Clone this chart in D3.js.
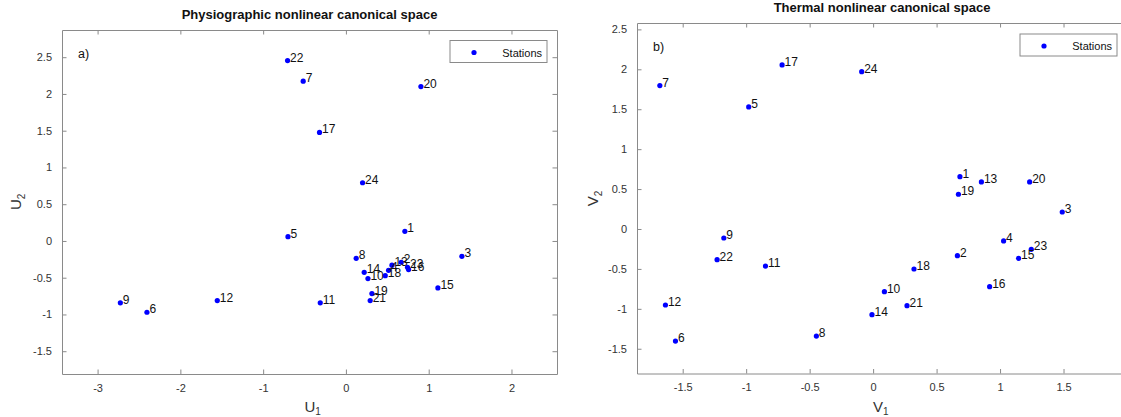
<!DOCTYPE html>
<html>
<head>
<meta charset="utf-8">
<script src="https://cdn.jsdelivr.net/npm/d3@7"></script>
<style>
  body { margin: 0; background: #fff; }
  svg { font-family: "Liberation Sans", Arial, sans-serif; }
</style>
</head>
<body>
<script>
// station numbers and canonical coordinates
var stations = [1, 2, 3, 4, 5, 6, 7, 8, 9, 10, 11, 12, 13, 14, 15, 16, 17, 18, 19, 20, 21, 22, 23, 24];

var u1 = [0.712, 0.668, 1.401, 0.515, -0.70, -2.404, -0.516, 0.124, -2.725, 0.266, -0.31, -1.554,
          0.556, 0.221, 1.111, 0.757, -0.319, 0.475, 0.314, 0.906, 0.293, -0.705, 0.744, 0.201];
var u2 = [0.131, -0.29, -0.209, -0.40, 0.058, -0.970, 2.174, -0.236, -0.842, -0.512, -0.842, -0.811,
          -0.33, -0.427, -0.639, -0.39, 1.476, -0.472, -0.716, 2.10, -0.811, 2.454, -0.358, 0.792];

var v1 = [0.684, 0.664, 1.49, 1.028, -0.980, -1.557, -1.680, -0.447, -1.176, 0.089, -0.848, -1.636,
          0.853, -0.009, 1.146, 0.918, -0.717, 0.322, 0.672, 1.233, 0.267, -1.229, 1.246, -0.09];
var v2 = [0.655, -0.334, 0.213, -0.150, 1.529, -1.404, 1.796, -1.341, -0.113, -0.785, -0.464, -0.952,
          0.589, -1.073, -0.368, -0.723, 2.055, -0.501, 0.435, 0.589, -0.961, -0.384, -0.255, 1.97];

var xTicksA = [-3, -2, -1, 0, 1, 2];
var xLabelsA = ['-3', '-2', '-1', '0', '1', '2'];
var yTicks = [-1.5, -1, -0.5, 0, 0.5, 1, 1.5, 2, 2.5];
var yLabels = ['-1.5', '-1', '-0.5', '0', '0.5', '1', '1.5', '2', '2.5'];
var xTicksB = [-1.5, -1, -0.5, 0, 0.5, 1, 1.5];
var xLabelsB = ['-1.5', '-1', '-0.5', '0', '0.5', '1', '1.5'];

var width = 1121,
    height = 417;

var svg = d3.select('body').append('svg')
    .attr('width', width)
    .attr('height', height);

var panels = [
  {x: u1, y: u2, title: 'Physiographic nonlinear canonical space', tag: 'a)', lab: 'U',
   xdom: [-3.43, 2.55], ydom: [-1.81, 2.87], left: 62, right: 557, top: 30, bottom: 374,
   xt: xTicksA, xl: xLabelsA, legTop: 40.5, ylabX: 21},
  {x: v1, y: v2, title: 'Thermal nonlinear canonical space', tag: 'b)', lab: 'V',
   xdom: [-1.86, 2.0], ydom: [-1.81, 2.58], left: 637, right: 1127, top: 23, bottom: 373.5,
   xt: xTicksB, xl: xLabelsB, legTop: 34, ylabX: 598}
];

var drawPanel = function(p) {
  var x = d3.scaleLinear().domain(p.xdom).range([p.left, p.right]);
  var y = d3.scaleLinear().domain(p.ydom).range([p.bottom, p.top]);
  var g = svg.append('g');

  var fmtX = function(d) { return p.xl[p.xt.indexOf(d)]; };
  var fmtY = function(d) { return yLabels[yTicks.indexOf(d)]; };

  var axes = [
    {a: d3.axisBottom(x).tickValues(p.xt).tickFormat(fmtX), t: 'translate(0,' + p.bottom + ')'},
    {a: d3.axisTop(x).tickValues(p.xt).tickFormat(''), t: 'translate(0,' + p.top + ')'},
    {a: d3.axisLeft(y).tickValues(yTicks).tickFormat(fmtY), t: 'translate(' + p.left + ',0)'},
    {a: d3.axisRight(y).tickValues(yTicks).tickFormat(''), t: 'translate(' + p.right + ',0)'}
  ];

  axes.forEach(function(ax) {
    var sel = g.append('g')
        .attr('transform', ax.t)
        .call(ax.a.tickSizeInner(-4.5).tickSizeOuter(0).tickPadding(10));
    sel.select('.domain').attr('stroke', '#8a8a8a');
    sel.selectAll('.tick line').attr('stroke', '#8a8a8a');
    sel.selectAll('.tick text')
        .attr('fill', '#333')
        .style('font-size', '11px');
  });

  // title
  g.append('text')
      .attr('x', (p.left + p.right) / 2)
      .attr('y', p.top - 11)
      .attr('text-anchor', 'middle')
      .style('font-size', '13px')
      .style('font-weight', 'bold')
      .attr('fill', '#111')
      .text(p.title);

  // panel tag
  g.append('text')
      .attr('x', p.left + 16)
      .attr('y', p.legTop + 17)
      .style('font-size', '12.5px')
      .attr('fill', '#111')
      .text(p.tag);

  // axis labels
  var xl = g.append('text')
      .attr('x', (p.left + Math.min(p.right, 1119)) / 2 - 5)
      .attr('y', 412)
      .style('font-size', '15px')
      .attr('fill', '#333');
  xl.append('tspan').text(p.lab);
  xl.append('tspan').attr('dy', 3).style('font-size', '10px').text('1');

  var cy = (p.top + p.bottom) / 2;
  var yl = g.append('text')
      .attr('transform', 'translate(' + p.ylabX + ',' + (cy + 8) + ') rotate(-90)')
      .style('font-size', '15px')
      .attr('fill', '#333');
  yl.append('tspan').text(p.lab);
  yl.append('tspan').attr('dy', 4).style('font-size', '10px').text('2');

  // points
  var idx = d3.range(stations.length);
  g.selectAll('circle.pt')
      .data(idx)
    .enter().append('circle')
      .attr('class', 'pt')
      .attr('cx', function(i) { return x(p.x[i]); })
      .attr('cy', function(i) { return y(p.y[i]); })
      .attr('r', 2.6)
      .style('fill', '#0000ff');

  g.selectAll('text.lab')
      .data(idx)
    .enter().append('text')
      .attr('class', 'lab')
      .attr('x', function(i) { return x(p.x[i]) + 2.5; })
      .attr('y', function(i) { return y(p.y[i]) + 1; })
      .style('font-size', '12px')
      .attr('fill', '#111')
      .text(function(i) { return stations[i]; });

  // legend
  var lw = 97, lh = 22;
  var lx = p.right - 10 - lw;
  g.append('rect')
      .attr('x', lx)
      .attr('y', p.legTop)
      .attr('width', lw)
      .attr('height', lh)
      .attr('fill', '#fff')
      .attr('stroke', '#8a8a8a');
  g.append('circle')
      .attr('cx', lx + 24)
      .attr('cy', p.legTop + 12)
      .attr('r', 2.6)
      .style('fill', '#0000ff');
  g.append('text')
      .attr('x', lx + lw - 5)
      .attr('y', p.legTop + 16)
      .attr('text-anchor', 'end')
      .style('font-size', '11px')
      .attr('fill', '#111')
      .text('Stations');
};

panels.forEach(drawPanel);
</script>
</body>
</html>
